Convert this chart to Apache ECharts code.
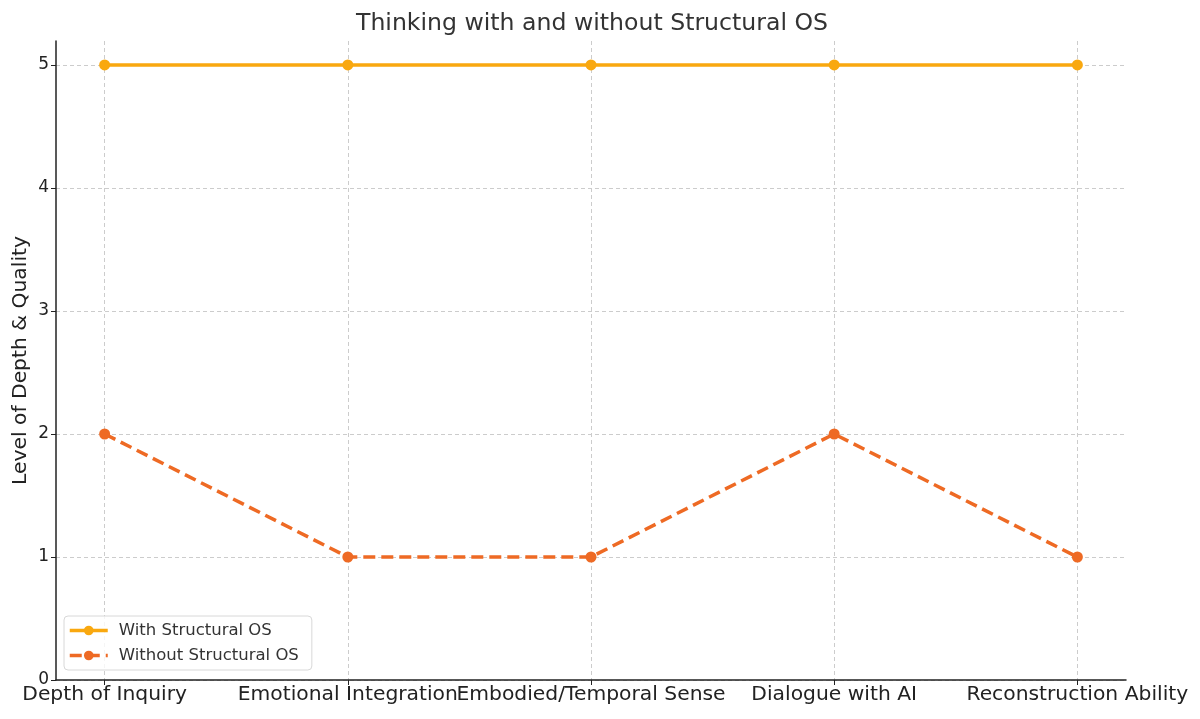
<!DOCTYPE html>
<html><head><meta charset="utf-8">
<script src="https://cdn.jsdelivr.net/npm/echarts@6/dist/echarts.min.js"></script>
<style>html,body{margin:0;padding:0;background:#fff}#c{width:1200px;height:719px}</style>
</head><body><div id="c"></div>
<script>
const categories = ["Depth of Inquiry", "Emotional Integration", "Embodied/Temporal Sense", "Dialogue with AI", "Reconstruction Ability"];
const withOS = [5, 5, 5, 5, 5];
const withoutOS = [2, 1, 1, 2, 1];
const yTicks = [0, 1, 2, 3, 4, 5];
const xTicks = categories.map((c, i) => i);

const font = 'DejaVu Sans';
const chart = echarts.init(document.getElementById('c'));
chart.setOption({
  animation: false,
  backgroundColor: '#fff',
  title: { text: 'Thinking with and without Structural OS', left: 351, top: 7,
    textStyle: { fontFamily: font, fontSize: 23.6, fontWeight: 'normal', color: '#333' } },
  grid: { left: 56, right: 74, top: 41, bottom: 39, containLabel: false, outerBoundsMode: 'none' },
  legend: {
    left: 64, top: 616, orient: 'vertical', itemWidth: 38, itemHeight: 12, itemGap: 8,
    padding: [6, 13, 6, 4], borderColor: '#d8d8d8', borderWidth: 1, borderRadius: 4,
    backgroundColor: 'rgba(255,255,255,0.8)',
    lineStyle: { width: 3.5 },
    textStyle: { fontFamily: font, fontSize: 16.5, color: '#333', padding: [0, 0, 0, 6] },
    data: ['With Structural OS', 'Without Structural OS']
  },
  xAxis: {
    type: 'value', min: -0.2, max: 4.2,
    axisLine: { show: true, onZero: false, lineStyle: { color: '#222', width: 1.5 } },
    axisTick: { show: true, length: 5, customValues: xTicks, lineStyle: { color: '#222' } },
    axisLabel: { customValues: xTicks, formatter: v => categories[Math.round(v)] || '', fontFamily: font, fontSize: 20.3, color: '#222', margin: 5 },
    splitLine: { show: true, lineStyle: { color: '#cccccc', type: [4, 3], width: 1 } }
  },
  yAxis: {
    type: 'value', min: 0, max: 5.195,
    name: 'Level of Depth & Quality', nameLocation: 'middle', nameGap: 25, nameMoveOverlap: false,
    nameTextStyle: { fontFamily: font, fontSize: 20.3, color: '#222' },
    axisLine: { show: true, onZero: false, lineStyle: { color: '#222', width: 1.5 } },
    axisTick: { show: true, length: 5, customValues: yTicks, lineStyle: { color: '#222' } },
    axisLabel: { customValues: yTicks, fontFamily: font, fontSize: 17, color: '#222', margin: 7 },
    splitLine: { show: true, lineStyle: { color: '#cccccc', type: [4, 3], width: 1 } }
  },
  series: [
    { name: 'With Structural OS', type: 'line', data: withOS.map((v, i) => [i, v]),
      color: '#F9A80F', symbol: 'circle', symbolSize: 11,
      lineStyle: { width: 3.5, color: '#F9A80F' }, itemStyle: { color: '#F9A80F' }, z: 3 },
    { name: 'Without Structural OS', type: 'line', data: withoutOS.map((v, i) => [i, v]),
      color: '#EE6A24', symbol: 'circle', symbolSize: 11,
      lineStyle: { width: 3.5, type: [12, 6], color: '#EE6A24' }, itemStyle: { color: '#EE6A24' }, z: 4 }
  ]
});
</script></body></html>
